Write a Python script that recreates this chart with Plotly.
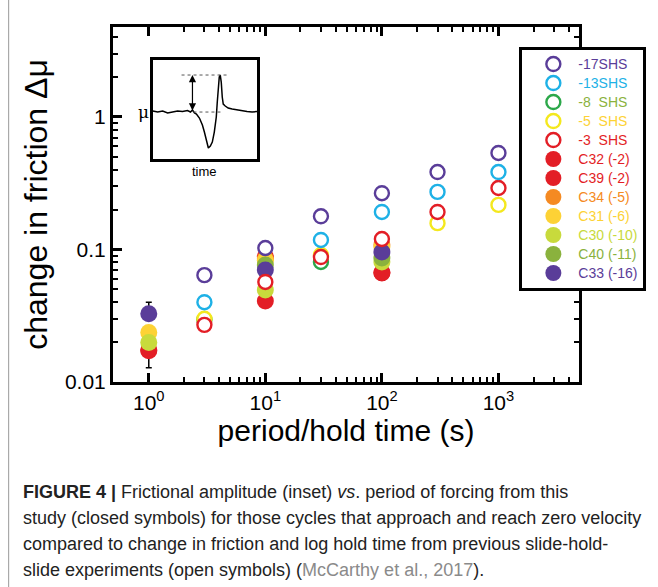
import plotly.graph_objects as go

# ---------------- data ----------------
# open symbols: previous slide-hold-slide experiments (McCarthy et al., 2017)
shs17_x = [3, 10, 30, 100, 300, 1000]
shs17_y = [0.064, 0.1026, 0.178, 0.266, 0.384, 0.535]
shs13_x = [3, 30, 100, 300, 1000]
shs13_y = [0.040, 0.118, 0.192, 0.272, 0.384]
shs8_x = [3, 30]
shs8_y = [0.0295, 0.0805]
shs5_x = [3, 30, 300, 1000]
shs5_y = [0.030, 0.0908, 0.158, 0.217]
shs3_x = [3, 10, 30, 100, 300, 1000]
shs3_y = [0.027, 0.0569, 0.0877, 0.120, 0.192, 0.291]

# closed symbols: this study
c32_x = [1, 10, 100]
c32_y = [0.0172, 0.0409, 0.0665]
c32_err_minus = [0.0044, 0.0, 0.008]
c39_x = [1, 10, 100]
c39_y = [0.0175, 0.088, 0.067]
c34_x = [10, 100]
c34_y = [0.085, 0.108]
c31_x = [1, 10, 100]
c31_y = [0.0236, 0.083, 0.105]
c30_x = [1, 10, 100]
c30_y = [0.0199, 0.0495, 0.0805]
c40_x = [10, 100]
c40_y = [0.0764, 0.0863]
c33_x = [1, 10, 100]
c33_y = [0.0327, 0.070, 0.0958]
c33_err_plus = [0.0073, 0.0, 0.0]

# inset friction trace (time in arbitrary units, mu relative to steady state)
inset_t = [0, 5, 10, 15, 20, 25, 30, 35, 38, 40, 42, 44, 47, 50, 52, 54, 56, 58,
           60, 62, 64, 65, 66, 67, 68, 69, 70, 71, 73, 76, 80, 85, 90, 95, 100, 105]
inset_mu = [1, 0, 1, -1, 0, 1, 0.5, 1.5, 0, 2, -1, -2, -6, -13, -20, -28, -36, -34,
            -30, -20, -5, 10, 25, 35, 37, 30, 15, 8, 6, 4, 3, 2, 1, 0.5, 0, 0.5]
inset_peak = 37
inset_base = 0

x_tickvals = [1, 10, 100, 1000]
x_ticktext = ["10<sup>0</sup>", "10<sup>1</sup>", "10<sup>2</sup>", "10<sup>3</sup>"]
x_minor = [m * 10 ** e for e in range(0, 4) for m in range(2, 10)]
y_tickvals = [0.01, 0.1, 1]
y_ticktext = ["0.01", "0.1", "1"]
y_minor = [m * 10.0 ** e for e in range(-2, 1) for m in range(2, 10)]

caption_lines = [
    "<b>FIGURE 4 |</b> Frictional amplitude (inset) <i>vs</i>. period of forcing from this",
    "study (closed symbols) for those cycles that approach and reach zero velocity",
    "compared to change in friction and log hold time from previous slide-hold-",
    "slide experiments (open symbols) (<span style='color:#8a8a8a'>McCarthy et al., 2017</span>).",
]

# ---------------- colours ----------------
PURPLE = "#5a3d99"
CYAN = "#1eb1e6"
GREEN = "#2ca84a"
YELLOW = "#f4e81e"
RED = "#e31e26"
ORANGE = "#f58a22"
GOLD = "#fdd235"
YGREEN = "#c8da3c"
OLIVE = "#8ab23d"

FONT = "Liberation Sans, Arial, Helvetica, sans-serif"

fig = go.Figure()

def lab(text, color):
    return f"<span style='color:{color};font-size:14px'>{text}</span>"

# filled symbols (drawn first)
filled = [
    ("C32 (-2)", c32_x, c32_y, RED, RED, 6, dict(type="data", symmetric=False, array=[0, 0, 0], arrayminus=c32_err_minus, color="black", thickness=1.5, width=3)),
    ("C39 (-2)", c39_x, c39_y, RED, RED, 7, None),
    ("C34 (-5)", c34_x, c34_y, ORANGE, ORANGE, 8, None),
    ("C31 (-6)", c31_x, c31_y, GOLD, GOLD, 9, None),
    ("C30 (-10)", c30_x, c30_y, YGREEN, YGREEN, 10, None),
    ("C40 (-11)", c40_x, c40_y, OLIVE, OLIVE, 11, None),
    ("C33 (-16)", c33_x, c33_y, PURPLE, PURPLE, 12, dict(type="data", symmetric=False, array=c33_err_plus, arrayminus=[0, 0, 0], color="black", thickness=1.5, width=3)),
]
for name, xs, ys, col, tcol, rank, err in filled:
    fig.add_trace(go.Scatter(
        x=xs, y=ys, mode="markers", name=lab(name, tcol), legendrank=rank,
        marker=dict(size=17, color=col, line=dict(width=0)),
        error_y=err if err else dict(visible=False),
    ))

# open symbols (white-filled rings)
opens = [
    ("-8\u00a0\u00a0SHS", shs8_x, shs8_y, GREEN, OLIVE, 3),
    ("-5\u00a0\u00a0SHS", shs5_x, shs5_y, YELLOW, GOLD, 4),
    ("-3\u00a0\u00a0SHS", shs3_x, shs3_y, RED, RED, 5),
    ("-13SHS", shs13_x, shs13_y, CYAN, CYAN, 2),
    ("-17SHS", shs17_x, shs17_y, PURPLE, PURPLE, 1),
]
for name, xs, ys, col, tcol, rank in opens:
    fig.add_trace(go.Scatter(
        x=xs, y=ys, mode="markers", name=lab(name, tcol), legendrank=rank,
        marker=dict(size=14, color="white", symbol="circle",
                    line=dict(width=2.4, color=col)),
    ))

# inset trace
fig.add_trace(go.Scatter(
    x=inset_t, y=inset_mu, xaxis="x2", yaxis="y2", mode="lines",
    line=dict(color="black", width=1.5), showlegend=False, hoverinfo="skip",
))

axis_common = dict(
    type="log", showline=True, linecolor="black", linewidth=3, mirror="ticks",
    ticks="inside", ticklen=9, tickwidth=2.5, tickcolor="black",
    showgrid=False, zeroline=False,
    tickfont=dict(family=FONT, size=21, color="black"),
)

fig.update_layout(
    width=658, height=587,
    margin=dict(l=113, r=76, t=27, b=205),
    paper_bgcolor="white", plot_bgcolor="white",
    font=dict(family=FONT, color="black"),
    xaxis=dict(axis_common, range=[-0.307, 3.691], tickmode="array", tickvals=x_tickvals, ticktext=x_ticktext,
               minor=dict(tickmode="array", tickvals=x_minor, ticks="inside", ticklen=5, tickwidth=2,
                          tickcolor="black", showgrid=False),
               title=dict(text="period/hold time (s)", font=dict(size=30, family=FONT), standoff=0)),
    yaxis=dict(axis_common, range=[-2, 0.679], tickmode="array", tickvals=y_tickvals, ticktext=y_ticktext,
               minor=dict(tickmode="array", tickvals=y_minor, ticks="inside", ticklen=5, tickwidth=2,
                          tickcolor="black", showgrid=False),
               title=dict(text="change in friction Δμ", font=dict(size=32, family=FONT), standoff=8)),
    xaxis2=dict(domain=[0.0853, 0.309], anchor="y2", range=[0, 105], showline=True, mirror=True,
                linecolor="black", linewidth=3, showticklabels=False, ticks="", showgrid=False, zeroline=False),
    yaxis2=dict(domain=[0.628, 0.907], anchor="x2", range=[-47, 52], showline=True, mirror=True,
                linecolor="black", linewidth=3, showticklabels=False, ticks="", showgrid=False, zeroline=False),
    legend=dict(x=0.872, y=0.945, xanchor="left", yanchor="top",
                bordercolor="black", borderwidth=3, bgcolor="white",
                font=dict(family=FONT, size=12.3), itemsizing="trace",
                itemwidth=40, indentation=6, tracegroupgap=0),
    showlegend=True,
)

# inset decorations: dashed reference lines and double arrow
fig.add_shape(type="line", xref="x2", yref="y2", x0=29, x1=77, y0=inset_peak, y1=inset_peak,
              line=dict(color="#555", width=1, dash="dot"))
fig.add_shape(type="line", xref="x2", yref="y2", x0=41, x1=70, y0=inset_base, y1=inset_base,
              line=dict(color="#555", width=1, dash="dot"))
fig.add_annotation(xref="x2", yref="y2", x=40, y=inset_peak, ax=40, ay=inset_base,
                   axref="x2", ayref="y2", showarrow=True, arrowhead=2, arrowside="end+start",
                   arrowsize=1.2, arrowwidth=1.2, arrowcolor="black", text="")
fig.add_annotation(xref="x2", yref="paper", x=52, y=0.628, yshift=-3, yanchor="top",
                   text="time", showarrow=False, font=dict(family=FONT, size=13))
fig.add_annotation(xref="x2", yref="y2", x=0, y=inset_base, xanchor="right", xshift=-2,
                   text="μ", showarrow=False, font=dict(family="DejaVu Serif, serif", size=17))

# caption, one annotation per line for the wide line spacing
for i, line in enumerate(caption_lines):
    fig.add_annotation(xref="paper", yref="paper", x=(20 - 113) / 469,
                       y=(382 - (492 + 26 * i)) / 355,
                       xanchor="left", yanchor="middle", align="left", showarrow=False,
                       text=line, font=dict(family=FONT, size=18, color="#222"))

# page frame line on the left
fig.add_shape(type="line", xref="paper", yref="paper", x0=(8 - 113) / 469, x1=(8 - 113) / 469,
              y0=(382 - 587) / 355, y1=(382 - 0) / 355, line=dict(color="#9a9a9a", width=1))

fig.write_html("out.html")
